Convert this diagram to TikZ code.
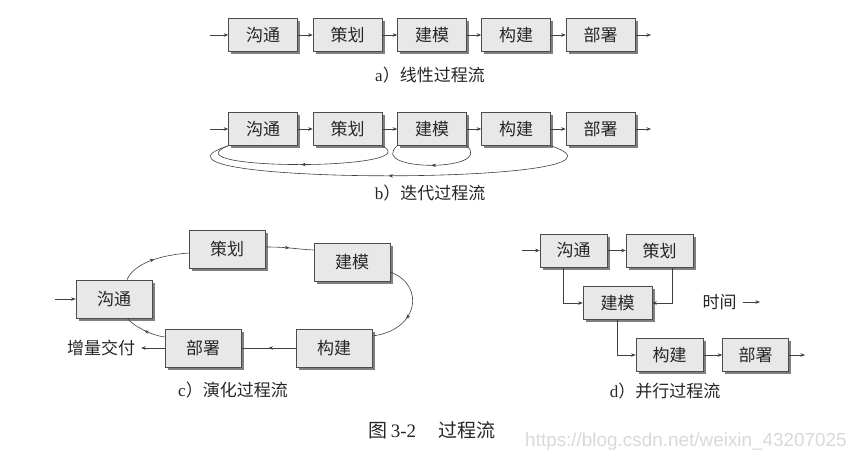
\documentclass[tikz,border=0pt]{standalone}
\usepackage{fontspec}
\setmainfont{Liberation Serif}
\newfontfamily\cjk{Noto Sans CJK SC}
\newfontfamily\wmfont{Liberation Sans}
\usetikzlibrary{arrows.meta,shadows,decorations.markings,calc}
\begin{document}
\begin{tikzpicture}[x=1pt,y=-1pt,
  box/.style={draw=black!70, fill=black!9, line width=0.6pt, minimum width=69pt, minimum height=33pt, inner sep=0pt,
    font=\cjk\fontsize{17}{19}\selectfont, text=black!85,
    drop shadow={shadow xshift=2.5pt, shadow yshift=-2.5pt, fill=black!50, opacity=1}},
  bigbox/.style={box, minimum width=76pt, minimum height=38pt},
  ln/.style={draw=black!75, line width=0.6pt},
  arr/.style={ln, -{Stealth[length=4.5pt,width=3.5pt]}},
  midarrow/.style={ln, postaction={decorate}, decoration={markings, mark=at position #1 with {\arrow{Stealth[length=4.5pt,width=3.5pt]}}}},
  midarrow/.default=0.5,
  captxt/.style={font=\cjk\fontsize{17}{19}\selectfont, text=black!85, inner sep=0pt},
]
\useasboundingbox[fill=white] (0,0) rectangle (864,464);

% ---- a) linear
\node[box] (a1) at (263,35) {沟通};
\node[box] (a2) at (347.5,35) {策划};
\node[box] (a3) at (432,35) {建模};
\node[box] (a4) at (516,35) {构建};
\node[box] (a5) at (600.5,35) {部署};
\coordinate (ain) at (210,35);
\coordinate (aout) at (651,35);
\draw[arr] (ain) -- (a1);
\draw[arr] (a1) -- (a2);
\draw[arr] (a2) -- (a3);
\draw[arr] (a3) -- (a4);
\draw[arr] (a4) -- (a5);
\draw[arr] (a5) -- (aout);
\node[captxt] (la) at (430,75) {{\rmfamily a}）线性过程流};

% ---- b) iterative
\node[box] (b1) at (263,129) {沟通};
\node[box] (b2) at (347.5,129) {策划};
\node[box] (b3) at (432,129) {建模};
\node[box] (b4) at (516,129) {构建};
\node[box] (b5) at (600.5,129) {部署};
\coordinate (bin) at (210,129);
\coordinate (bout) at (651,129);
\draw[arr] (bin) -- (b1);
\draw[arr] (b1) -- (b2);
\draw[arr] (b2) -- (b3);
\draw[arr] (b3) -- (b4);
\draw[arr] (b4) -- (b5);
\draw[arr] (b5) -- (bout);
\draw[midarrow] (b2.south east) .. controls +(48,25) and +(-64,25) .. (b1.south west);
\draw[midarrow] (b3.south east) .. controls +(28,26) and +(-30,26) .. (b3.south west);
\draw[midarrow] (b4.south east) .. controls +(120,40) and +(-124,40) .. (b1.south west);
\node[captxt] (lb) at (430,193) {{\rmfamily b}）迭代过程流};

% ---- c) evolutionary
\node[bigbox] (c1) at (114,299) {沟通};
\node[bigbox] (c2) at (227,249) {策划};
\node[bigbox] (c3) at (352,262) {建模};
\node[bigbox] (c4) at (334,348) {构建};
\node[bigbox] (c5) at (203,348) {部署};
\node[captxt] (c6) at (101,348) {增量交付};
\coordinate (cin) at (55,299);
\draw[arr] (cin) -- (c1);
\draw[arr, shorten >=6pt] (c5) -- (c6);
\draw[midarrow] ($(c1.north)+(13,0)$) .. controls +(8,-18) and +(-25,2) .. ($(c2.west)+(0,4)$);
\draw[midarrow] ($(c2.east)+(0,-2)$) .. controls +(25,0) and +(-20,-1) .. ($(c3.west)+(0,-12)$);
\draw[midarrow=0.6] ($(c3.east)+(0,10)$) .. controls +(35,13) and +(47,-6) .. ($(c4.east)+(0,-12)$);
\draw[midarrow] (c4.west) -- (c5.east);
\draw[midarrow] ($(c5.west)+(0,-11)$) .. controls +(-15,-2) and +(6,7) .. ($(c1.south)+(13,0)$);
\node[captxt] (lc) at (233,390) {{\rmfamily c}）演化过程流};

% ---- d) parallel
\node[box, minimum width=67pt] (d1) at (573.5,250.5) {沟通};
\node[box, minimum width=67pt] (d2) at (659.5,250.5) {策划};
\node[box] (d3) at (617.5,303) {建模};
\node[box, minimum width=67pt] (d4) at (669.5,355) {构建};
\node[box, minimum width=66pt] (d5) at (755.5,355) {部署};
\coordinate (din) at (522,250.5);
\coordinate (dout) at (805,355);
\draw[arr] (din) -- (d1);
\draw[arr] (d1) -- (d2);
\draw[arr] ($(d1.south)+(-10,0)$) |- (d3.west);
\draw[arr] ($(d2.south)+(12.5,0)$) |- (d3.east);
\draw[arr] (d3.south) |- (d4.west);
\draw[arr] (d4) -- (d5);
\draw[arr] (d5) -- (dout);
\node[captxt] (t) at (719.5,302) {时间};
\coordinate (tend) at (760,302);
\draw[arr, shorten <=6pt] (t.east) -- (tend);
\node[captxt] (ld) at (665,391) {{\rmfamily d}）并行过程流};

% ---- caption and watermark
\node[captxt, font=\cjk\fontsize{19}{21}\selectfont] (fig) at (432,430) {图\hspace{0.2em}{\rmfamily 3-2}\hspace{1.2em}过程流};
\node[inner sep=0pt, font=\wmfont\fontsize{18.9}{20}\selectfont, text=black!15] (wm) at (686,442) {https://blog.csdn.net/weixin\_43207025};
\end{tikzpicture}
\end{document}
